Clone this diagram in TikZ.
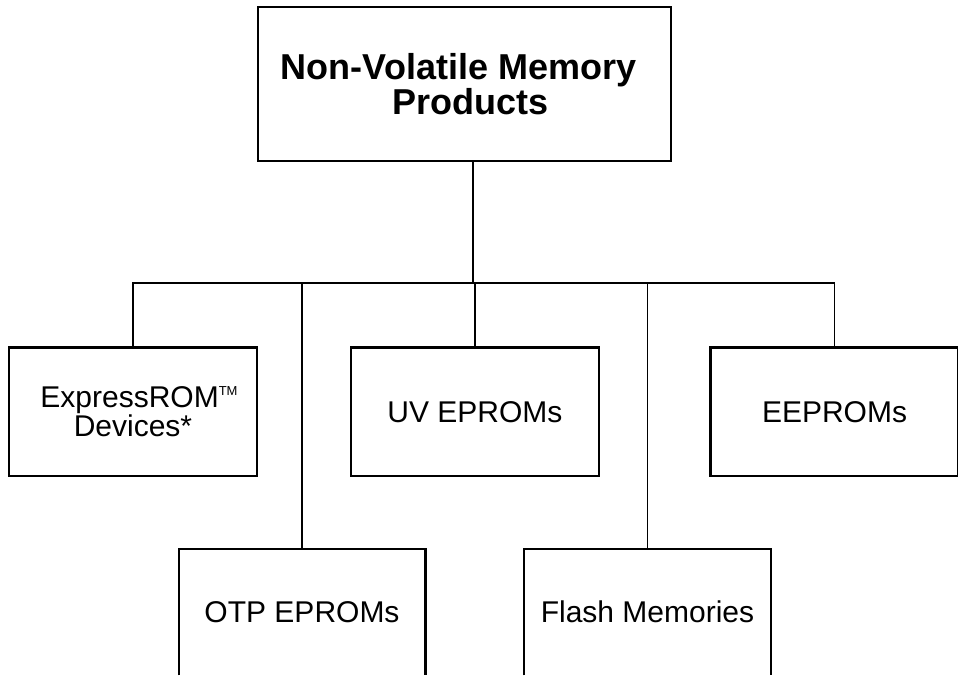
\documentclass[tikz,border=0pt]{standalone}
\usepackage{fontspec}
\setmainfont{Liberation Sans}
\begin{document}
\begin{tikzpicture}[x=0.5pt,y=-0.5pt,
  box/.style={draw, line width=1.1pt, minimum width=124pt, minimum height=64.25pt, inner sep=0pt, align=center, font=\fontsize{15}{14.5}\selectfont},
  openbox/.style={minimum width=123pt, minimum height=63pt, inner sep=0pt, align=center, font=\fontsize{15}{14.5}\selectfont},
  openside/.style={line width=1.1pt},
  topbox/.style={draw, line width=1.4pt, minimum width=206.5pt, minimum height=77pt, inner sep=0pt, align=center, font=\bfseries\fontsize{18}{15.5}\selectfont},
  link/.style={line width=0.85pt}]
\useasboundingbox (0,0) rectangle (958,675);
\node[topbox] (top) at (464.5,84) {Non-Volatile Memory\hspace*{6pt}\\\hspace*{6pt}Products};
\node[box] (ex) at (133,411.75) {\hspace*{6pt}ExpressROM\raisebox{5.8pt}{\fontsize{6.5}{6.5}\selectfont TM}\\Devices*};
\node[box] (uv) at (475,411.75) {UV EPROMs};
\node[box] (ee) at (834.5,411.75) {EEPROMs};
\node[openbox] (otp) at (302,612) {OTP EPROMs};
\node[openbox] (fl) at (647.5,612) {Flash Memories};
\draw[openside] (otp.south west) -- (otp.north west) -- (otp.north east) -- (otp.south east);
\draw[openside] (fl.south west) -- (fl.north west) -- (fl.north east) -- (fl.south east);
\coordinate (bus) at (473,283);
\draw[link] (top.south -| bus) -- (bus);
\draw[link] (ex.north) -- (ex.north |- bus) -- (ee.north |- bus) -- (ee.north);
\draw[link] (otp.north) -- (otp.north |- bus);
\draw[link] (uv.north) -- (uv.north |- bus);
\draw[link] (fl.north) -- (fl.north |- bus);
\end{tikzpicture}
\end{document}
